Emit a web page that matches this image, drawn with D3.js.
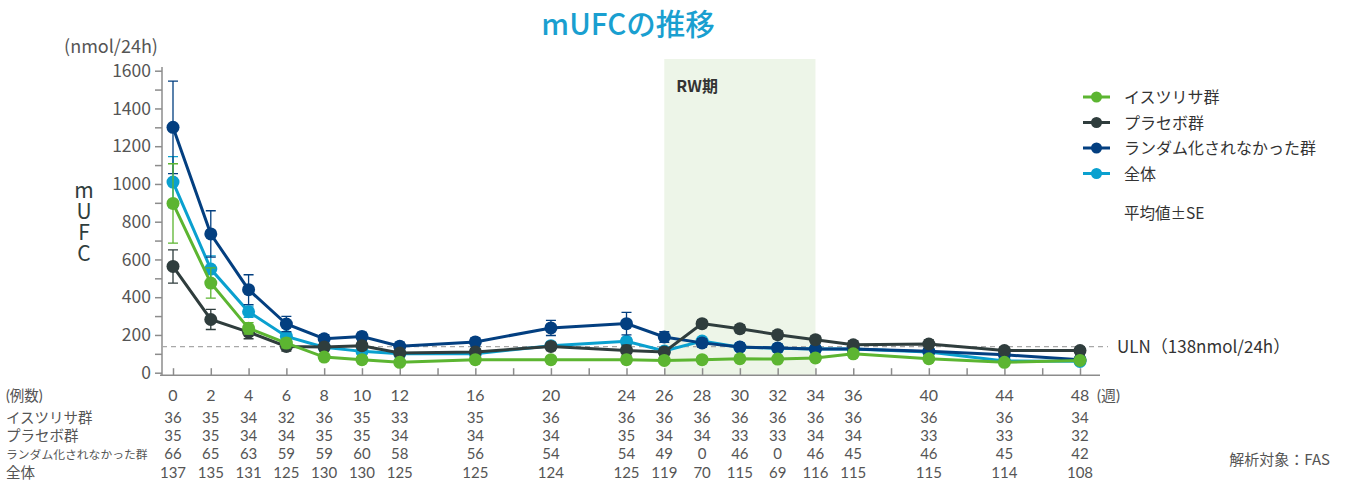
<html>
<head>
<meta charset="utf-8">
<script src="https://cdn.jsdelivr.net/npm/d3@7/dist/d3.min.js"></script>
<style type="text/css">
body{ margin:0; background:#fff; }
text{ font-family:"Noto Sans CJK JP","Noto Sans",sans-serif; }
.axis path, .axis line{ stroke:#8c8c8c; stroke-width:1.5; }
.tbl{ font-family:Lato,"Noto Sans CJK JP",sans-serif; fill:#555; }
.vert{ writing-mode:vertical-rl; text-orientation:upright; }
</style>
</head>
<body>
<script type="text/javascript">
var width = 1347,
    height = 485;

// weeks on the x axis
var weeks = [0, 2, 4, 6, 8, 10, 12, 16, 20, 24, 26, 28, 30, 32, 34, 36, 40, 44, 48];

// mean mUFC (nmol/24h)
var isturisa = [897, 475, 235, 157, 83, 69, 55, 69, 69, 69, 65, 69, 74, 72, 78, 100, 74, 55, 65];
var placebo  = [563, 282, 215, 139, 136, 143, 104, 110, 139, 118, 110, 260, 233, 201, 175, 148, 152, 117, 117];
var nonRand  = [1300, 735, 440, 258, 180, 192, 140, 163, 237, 260, 189, 158, 136, 131, 125, 125, 113, 95, 69];
var overall  = [1010, 549, 323, 192, 135, 113, 100, 100, 143, 166, 115, 168, 135, 130, 125, 125, 110, 62, 60];

// SE
var isturisaSE = [210, 80, 30, 25, 18, 18, 15, 15, 15, 15, 15, 15, 15, 15, 15, 15, 18, 15, 15];
var placeboSE  = [88, 53, 35, 25, 20, 20, 18, 18, 22, 28, 20, 20, 20, 20, 20, 20, 22, 18, 18];
var nonRandSE  = [245, 123, 79, 40, 22, 22, 22, 22, 40, 60, 28, 22, 20, 20, 20, 18, 18, 18, 18];
var overallSE  = [135, 70, 30, 20, 15, 15, 15, 15, 15, 20, 15, 15, 15, 15, 15, 15, 15, 15, 15];

// number of cases
var nIsturisa = [36, 35, 34, 32, 36, 35, 33, 35, 36, 36, 36, 36, 36, 36, 36, 36, 36, 36, 34];
var nPlacebo  = [35, 35, 34, 34, 35, 35, 34, 34, 34, 35, 34, 34, 33, 33, 34, 34, 33, 33, 32];
var nNonRand  = [66, 65, 63, 59, 59, 60, 58, 56, 54, 54, 49, 0, 46, 0, 46, 45, 46, 45, 42];
var nOverall  = [137, 135, 131, 125, 130, 130, 125, 125, 124, 125, 119, 70, 115, 69, 116, 115, 115, 114, 108];

var seriesNames = ['イスツリサ群', 'プラセボ群', 'ランダム化されなかった群', '全体'];
var uln = 138;
var rwPeriod = [26, 34];

var series = [
    { name: seriesNames[0], color: '#5cb531', values: isturisa, se: isturisaSE, n: nIsturisa },
    { name: seriesNames[1], color: '#2f3d3d', values: placebo,  se: placeboSE,  n: nPlacebo },
    { name: seriesNames[2], color: '#033f80', values: nonRand,  se: nonRandSE,  n: nNonRand },
    { name: seriesNames[3], color: '#0aa0cf', values: overall,  se: overallSE,  n: nOverall }
];

var x = d3.scaleLinear().domain([0, 48]).range([173, 1080]);
var y = d3.scaleLinear().domain([0, 1600]).range([372.7, 70.7]);

var svg = d3.select('body')
    .append('svg')
        .attr('width', width)
        .attr('height', height);

// title
svg.append('text')
    .attr('x', 628).attr('y', 35)
    .attr('text-anchor', 'middle')
    .attr('font-size', 29.5)
    .attr('font-weight', 500)
    .attr('fill', '#1a9fd0')
    .text('mUFCの推移');

// RW period
svg.append('rect')
    .attr('x', x(rwPeriod[0]))
    .attr('y', 59)
    .attr('width', x(rwPeriod[1]) - x(rwPeriod[0]))
    .attr('height', y(0) + 2 - 59)
    .attr('fill', '#edf5e8');

svg.append('text')
    .attr('x', x(rwPeriod[0]) + 12).attr('y', 92)
    .attr('font-size', 16)
    .attr('font-weight', 'bold')
    .attr('fill', '#333')
    .text('RW期');

// y axis
var yAxis = d3.axisLeft(y)
    .tickValues(d3.range(0, 1601, 100))
    .tickSize(7)
    .tickPadding(4)
    .tickFormat(function(d){ return d % 200 === 0 ? d : ''; });

var gy = svg.append('g')
    .attr('class', 'axis')
    .attr('transform', 'translate(162,0)')
    .call(yAxis);
gy.select('.domain').remove();
gy.append('line')
    .attr('x1', 0).attr('x2', 0)
    .attr('y1', y(0) + 3).attr('y2', 67);
gy.selectAll('text')
    .attr('fill', '#555')
    .attr('font-size', 17.5);

svg.append('text')
    .attr('x', 111).attr('y', 53)
    .attr('text-anchor', 'middle')
    .attr('font-size', 18)
    .attr('fill', '#555')
    .text('(nmol/24h)');

// vertical mUFC label, upright letters
svg.append('text')
    .attr('class', 'vert')
    .attr('x', 84).attr('y', 180)
    .attr('font-size', 21)
    .attr('fill', '#2f3d3d')
    .text('mUFC');

// x axis
var xAxis = d3.axisBottom(x)
    .tickValues(d3.range(0, 49, 2))
    .tickSize(-7)
    .tickFormat('');

var gx = svg.append('g')
    .attr('class', 'axis')
    .attr('transform', 'translate(0,' + (y(0) + 2.5) + ')')
    .call(xAxis);
gx.select('.domain').remove();
gx.append('line')
    .attr('x1', 160).attr('x2', 1100)
    .attr('y1', 0).attr('y2', 0)
    .attr('stroke-width', 2.5);

// ULN
svg.append('line')
    .attr('x1', 162).attr('x2', 1108)
    .attr('y1', y(uln)).attr('y2', y(uln))
    .attr('stroke', '#a8a8a8')
    .attr('stroke-width', 1.2)
    .attr('stroke-dasharray', '5,4');

svg.append('text')
    .attr('x', 1117).attr('y', y(uln) + 6)
    .attr('font-size', 17)
    .attr('fill', '#333')
    .text('ULN（138nmol/24h）');

// series, drawn bottom to top
var drawOrder = [series[3], series[2], series[1], series[0]];

var line = d3.line()
    .x(function(d){ return x(d.w); })
    .y(function(d){ return y(d.v); });

drawOrder.forEach(function(s){
    var pts = weeks.map(function(w, i){ return { w: w, v: s.values[i], se: s.se[i] }; });
    var g = svg.append('g');

    g.selectAll('.err')
        .data(pts)
        .enter()
        .append('path')
            .attr('fill', 'none')
            .attr('stroke', s.color)
            .attr('stroke-width', 1.3)
            .attr('d', function(d){
                var cx = x(d.w), t = y(d.v + d.se), b = y(Math.max(0, d.v - d.se));
                return 'M' + cx + ',' + t + 'V' + b +
                       'M' + (cx - 5) + ',' + t + 'H' + (cx + 5) +
                       'M' + (cx - 5) + ',' + b + 'H' + (cx + 5);
            });

    g.append('path')
        .datum(pts)
        .attr('fill', 'none')
        .attr('stroke', s.color)
        .attr('stroke-width', 3)
        .attr('d', line);

    g.selectAll('circle')
        .data(pts)
        .enter()
        .append('circle')
            .attr('cx', function(d){ return x(d.w); })
            .attr('cy', function(d){ return y(d.v); })
            .attr('r', 6.5)
            .attr('fill', s.color);
});

// legend
var legend = svg.append('g')
    .selectAll('g')
    .data(series)
    .enter()
    .append('g')
        .attr('transform', function(d, i){ return 'translate(1083,' + (97 + i * 25.5) + ')'; });

legend.append('line')
    .attr('x1', 0).attr('x2', 27)
    .attr('stroke', function(d){ return d.color; })
    .attr('stroke-width', 3);
legend.append('circle')
    .attr('cx', 13.5).attr('r', 5.5)
    .attr('fill', function(d){ return d.color; });
legend.append('text')
    .attr('x', 41).attr('y', 6)
    .attr('font-size', 16)
    .attr('fill', '#333')
    .text(function(d){ return d.name; });

svg.append('text')
    .attr('x', 1124).attr('y', 219)
    .attr('font-size', 15.5)
    .attr('fill', '#333')
    .text('平均値±SE');

// table of cases
svg.append('text')
    .attr('class', 'tbl')
    .attr('x', 6).attr('y', 401)
    .attr('font-size', 14.5)
    .text('(例数)');

var weekRow = svg.append('text')
    .attr('class', 'tbl')
    .attr('font-size', 16)
    .attr('text-anchor', 'middle');
weekRow.selectAll('tspan')
    .data(weeks)
    .enter()
    .append('tspan')
        .attr('x', function(d){ return x(d); })
        .attr('y', 401)
        .text(function(d){ return d; });

svg.append('text')
    .attr('class', 'tbl')
    .attr('x', x(48) + 17).attr('y', 401)
    .attr('font-size', 15)
    .text('(週)');

var rowY = [423, 441, 459, 478];

series.forEach(function(s, r){
    svg.append('text')
        .attr('class', 'tbl')
        .attr('x', 6).attr('y', rowY[r])
        .attr('font-size', r === 2 ? 11.8 : 14.5)
        .text(s.name);

    var row = svg.append('text')
        .attr('class', 'tbl')
        .attr('font-size', 15)
        .attr('text-anchor', 'middle');
    row.selectAll('tspan')
        .data(s.n)
        .enter()
        .append('tspan')
            .attr('x', function(d, i){ return x(weeks[i]); })
            .attr('y', rowY[r])
            .text(function(d){ return d; });
});

svg.append('text')
    .attr('x', 1330).attr('y', 465)
    .attr('text-anchor', 'end')
    .attr('font-size', 15)
    .attr('fill', '#555')
    .text('解析対象：FAS');
</script>
</body>
</html>
